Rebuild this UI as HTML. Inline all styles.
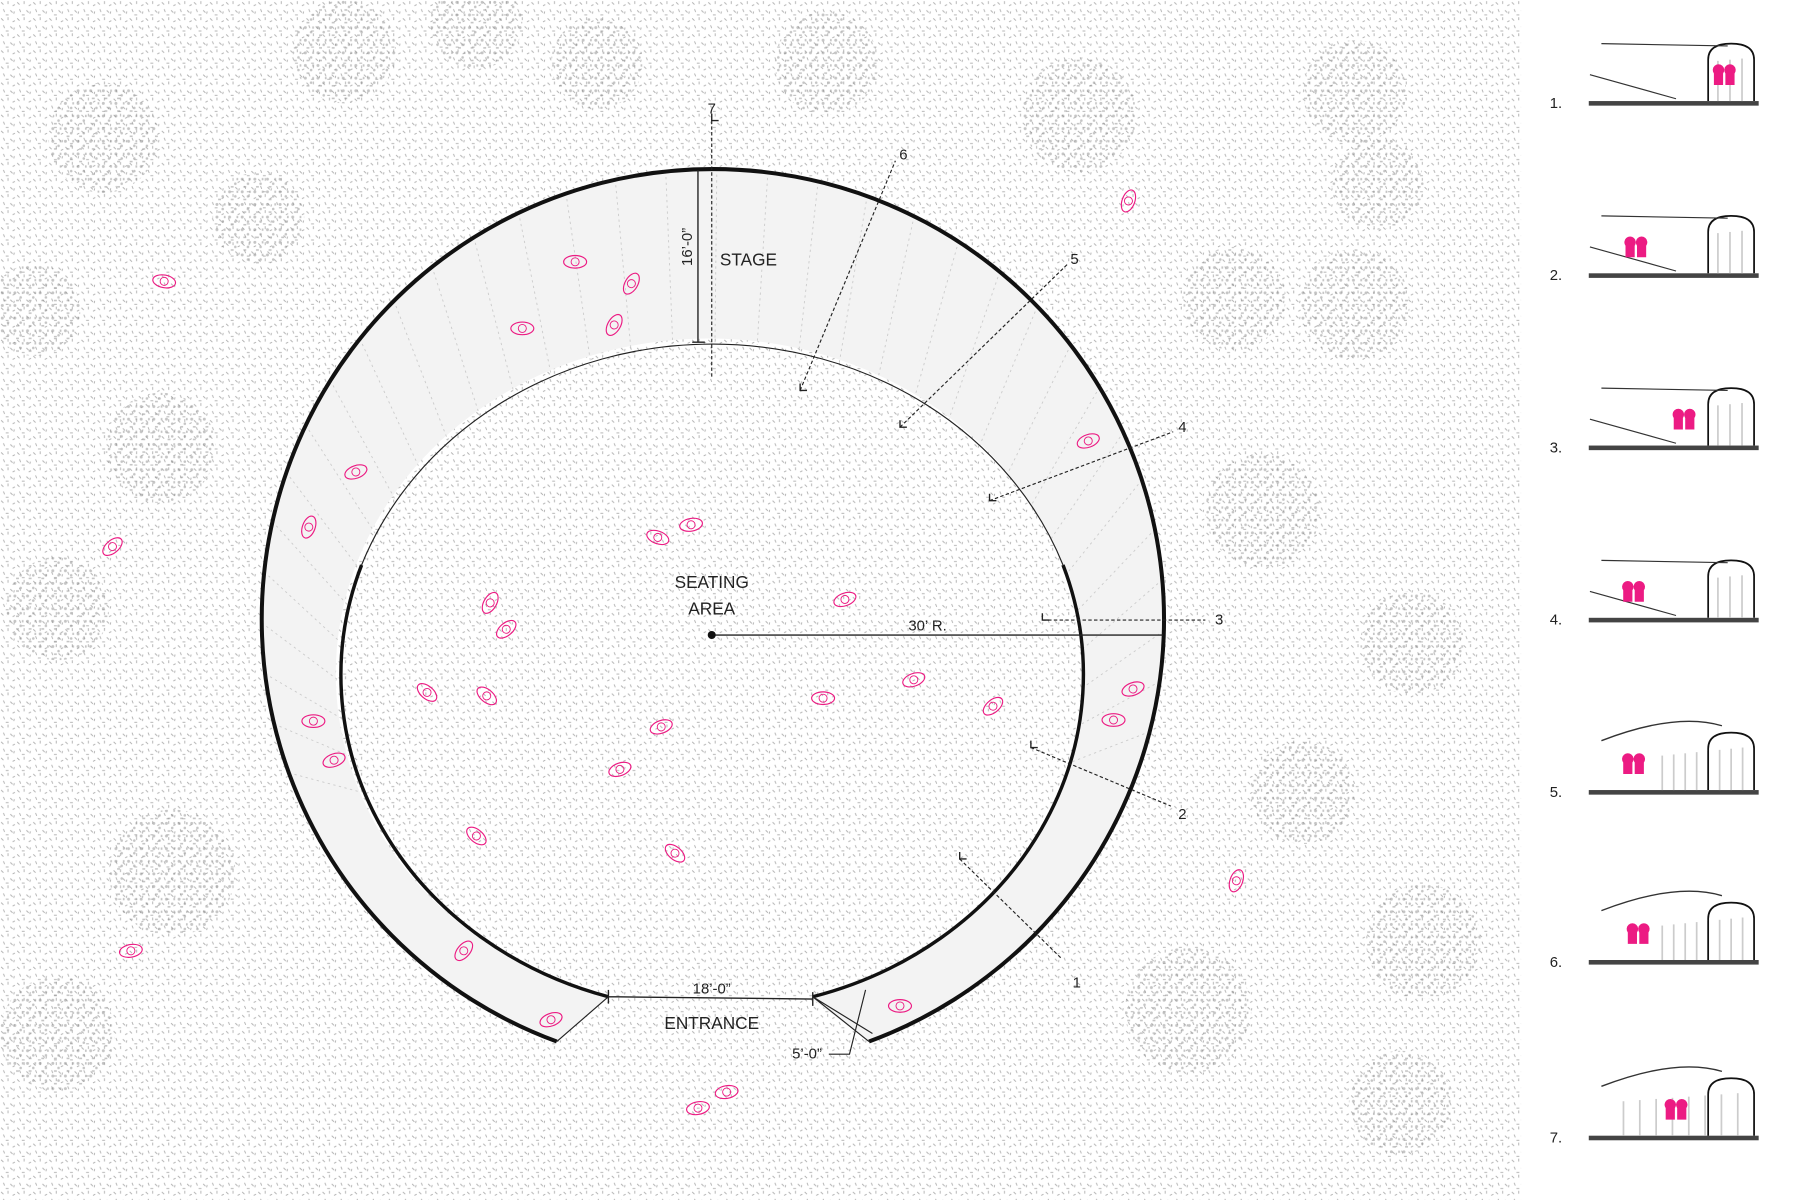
<!DOCTYPE html>
<html><head><meta charset="utf-8"><style>
html,body{margin:0;padding:0;background:#fff}
svg{display:block}
text{font-family:"Liberation Sans",sans-serif;fill:#222}
</style></head><body>
<svg width="1800" height="1200" viewBox="0 0 1568 1045" preserveAspectRatio="none">
<defs>
<pattern id="speck" width="14" height="14" patternUnits="userSpaceOnUse">
<rect width="14" height="14" fill="#fff"/>
<g stroke="#b0b0b0" stroke-width="0.8">
<line x1="1" y1="2" x2="3" y2="4"/><line x1="7" y1="1" x2="7" y2="3.5"/><line x1="11" y1="5" x2="13" y2="4"/>
<line x1="3" y1="8" x2="4" y2="10.5"/><line x1="9" y1="9" x2="11" y2="11"/><line x1="5" y1="13" x2="7.5" y2="13"/><line x1="12" y1="12" x2="12.5" y2="10"/>
</g></pattern>
<pattern id="tree" width="11" height="11" patternUnits="userSpaceOnUse">
<rect width="11" height="11" fill="none"/>
<g fill="#8a8a8a"><circle cx="2" cy="2" r="1.3"/><circle cx="7" cy="6" r="1.1"/><rect x="3" y="8" width="2.5" height="1.4"/><rect x="8" y="1" width="1.5" height="2"/></g></pattern>
</defs>
<rect x="0" y="0" width="1325" height="1045" fill="url(#speck)"/>
<g id="trees" opacity="0.5"></g>
<g id="plan"></g>
<g id="panel"></g>
</svg>
<script>
const NS='http://www.w3.org/2000/svg';
const trees=[[90,120,48],[225,190,40],[300,45,45],[520,55,40],[720,55,45],[940,100,50],[1180,80,45],[1200,160,40],[1075,260,45],[1180,265,48],[140,390,48],[1100,445,50],[1230,560,45],[50,530,45],[1135,690,45],[150,760,55],[1240,820,50],[50,900,50],[1035,880,55],[1220,960,45],[415,20,40],[30,270,40]];
const pinkX=[143,501,550,535,455,310,269,98,427,441,372,424,576,540,415,588,480,404,273,291,114,948,987,970,865,796,717,736,602,573,983,1077,784,608,633];
const pinkY=[245,228,247,283,286,411,459,476,525,548,603,606,633,670,728,743,888,828,628,662,828,384,600,627,615,592,608,522,457,468,175,767,876,965,951];
const pinkA=[10,0,-60,-60,0,-20,-70,-40,-60,-40,40,40,-20,-20,40,40,-20,-50,0,-20,-10,-20,-20,0,-40,-20,0,-20,-10,20,-70,-70,0,-10,-10];
const labels=['1.','2.','3.','4.','5.','6.','7.'];
const rowY=[90,240,390,540,690,838,991];
function el(t,a,p){const e=document.createElementNS(NS,t);for(const k in a)e.setAttribute(k,a[k]);(p||document.getElementById('plan')).appendChild(e);return e;}
const tg=document.getElementById('trees');
trees.forEach(t=>{const c=el('circle',{cx:t[0],cy:t[1],r:t[2],fill:'url(#tree)'},tg);

});
const CX=621,CY=539,RX=393,RY=392;
const outer=`M485,907 A${RX},${RY} 0 1 1 757,907`;
const band=el('path',{d:outer+' L705,868 A325,292 0 1 0 530,868 Z',fill:'#f3f3f3',stroke:'none'});


for(let a=-200;a<=20;a+=6.5){const r=a*Math.PI/180;
const l=el('line',{x1:CX+RX*Math.cos(r),y1:CY+RY*Math.sin(r),x2:620+325*Math.cos(r),y2:590+292*Math.sin(r),stroke:'#ccc','stroke-width':0.8,'stroke-dasharray':'2 3'});

}
const o=el('path',{d:outer,fill:'none',stroke:'#111','stroke-width':3.5});


const it=el('path',{d:'M315,492 A325,292 0 0 1 926,492',fill:'none',stroke:'#222','stroke-width':1});


const ib=el('path',{d:'M315,492 A325,292 0 0 0 530,868 M926,492 A325,292 0 0 1 708,868',fill:'none',stroke:'#111','stroke-width':3});


el('path',{d:'M530,868 L485,907 M708,868 L757,907 M708,868 L760,900',fill:'none',stroke:'#222','stroke-width':1});
const d=el('path',{d:'M530,868 L708,870 M530,862 V874 M708,864 V876 M608,148 V298 M603,298 H614 M620,553 H1013',fill:'none',stroke:'#222','stroke-width':1.2});


el('circle',{cx:620,cy:553,r:3.5,fill:'#111'});
const secs=[[836,748,925,835,'1',938,860],[898,651,1020,702,'2',1030,713],[908,540,1050,540,'3',1062,544],[862,436,1022,376,'4',1030,376],[784,372,930,230,'5',936,230],[697,340,780,140,'6',787,139],[620,105,620,330,'7',620,99]];
secs.forEach(s=>{const l=el('line',{x1:s[0],y1:s[1],x2:s[2],y2:s[3],stroke:'#222','stroke-width':1,'stroke-dasharray':'3 2'});


el('path',{d:`M${s[0]},${s[1]-6} V${s[1]} H${s[0]+6}`,fill:'none',stroke:'#222','stroke-width':1.2});
const t=el('text',{x:s[5],y:s[6],'font-size':13,'text-anchor':'middle'});t.textContent=s[4];

});
const txt=[[652,231,'STAGE',15],[620,512,'SEATING',15],[620,535,'AREA',15],[808,549,'30’ R.',13],[620,865,'18’-0”',13],[620,896,'ENTRANCE',15],[703,922,'5’-0”',13]];
txt.forEach(a=>{const t=el('text',{x:a[0],y:a[1],'font-size':a[3],'text-anchor':'middle'});t.textContent=a[2];

});
const v=el('text',{x:0,y:0,'font-size':13,'text-anchor':'middle',transform:'translate(603,215) rotate(-90)'});v.textContent='16’-0”';
el('path',{d:'M722,918 H740 L754,862',fill:'none',stroke:'#222','stroke-width':1});
pinkX.forEach((x,i)=>{const g=el('g',{transform:`translate(${x},${pinkY[i]}) rotate(${pinkA[i]})`});


el('ellipse',{cx:0,cy:0,rx:10,ry:5.5,fill:'none',stroke:'#ec1b83','stroke-width':1},g);
el('circle',{cx:0,cy:0,r:3.5,fill:'none',stroke:'#ec1b83','stroke-width':0.8},g);});
const P=document.getElementById('panel');
labels.forEach((lb,i)=>{const y=rowY[i];
const t=el('text',{x:1350,y:y+4,'font-size':13},P);t.textContent=lb;


const g=el('rect',{x:1384,y:y-2,width:148,height:4,fill:'#444'},P);


const w=i<4?42:(i<6?90:128);
for(let k=0;k<(i<4?4:9);k++){el('path',{d:`M${1528-k*(w/(i<4?4:9))},${y-2} V${y-40+k} `,stroke:'#ccc','stroke-width':1.5,fill:'none'},P);}
el('path',{d:`M1488,${y-2} V${y-38} Q1488,${y-52} 1508,${y-52} Q1528,${y-52} 1528,${y-38} V${y-2}`,fill:'none',stroke:'#111','stroke-width':1.5},P);
if(i<4)el('path',{d:`M1395,${y-52} L1505,${y-50} M1385,${y-25} L1460,${y-4}`,fill:'none',stroke:'#333','stroke-width':1},P);
else el('path',{d:`M1395,${y-45} Q1460,${y-70} 1500,${y-58}`,fill:'none',stroke:'#333','stroke-width':1.2},P);
const px=[1497,1420,1462,1418,1418,1422,1455][i];
el('path',{d:`M${px},${y-2} v-14 h-4 v-10 a5,5 0 1 1 8,0 v10 h-4 Z`,fill:'#ec1b83'},P);
el('path',{d:`M${px+10},${y-2} v-14 h-4 v-10 a5,5 0 1 1 8,0 v10 h-4 Z`,fill:'#ec1b83'},P);
});
</script>
</body></html>
